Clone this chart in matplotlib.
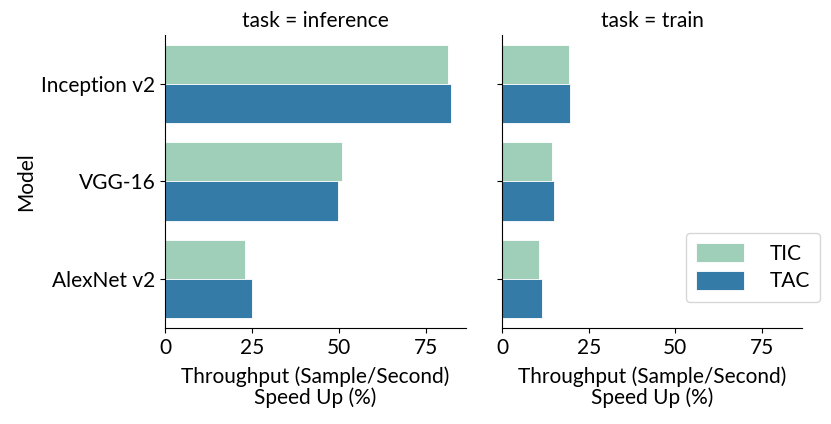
import numpy as np
import matplotlib
matplotlib.use('Agg')
import matplotlib.pyplot as plt

plt.rcParams['font.family'] = ['Lato', 'DejaVu Sans']

models = ['Inception v2', 'VGG-16', 'AlexNet v2']
tasks = ['inference', 'train']
methods = ['TIC', 'TAC']
colors = ['#9fcfb9', '#357ba8']

# speed up (%) per task, per method, per model
inference_tic = [81.3, 50.8, 22.9]
inference_tac = [82.2, 49.6, 25.1]
train_tic = [19.3, 14.4, 10.7]
train_tac = [19.5, 14.9, 11.6]

values = {
    'inference': [inference_tic, inference_tac],
    'train': [train_tic, train_tac],
}

fig = plt.figure(figsize=(8.31, 4.24), dpi=100)
ax1 = fig.add_axes([0.1986, 0.2264, 0.3622, 0.6911])
ax2 = fig.add_axes([0.6041, 0.2264, 0.3610, 0.6911], sharex=ax1, sharey=ax1)

y = np.arange(len(models))
h = 0.4
handles = []
for ax, task in zip([ax1, ax2], tasks):
    for i, m in enumerate(methods):
        b = ax.barh(y - h / 2 + i * h, values[task][i], height=h, color=colors[i],
                    edgecolor='white', linewidth=0.6, label=m)
        if task == 'train':
            handles.append(b)
    ax.set_title(f'task = {task}', fontsize=15)
    ax.spines['top'].set_visible(False)
    ax.spines['right'].set_visible(False)
    ax.set_xlabel('Throughput (Sample/Second)\nSpeed Up (%)', fontsize=15,
                  linespacing=1.05, labelpad=6)
    ax.tick_params(labelsize=15)

ax1.set_yticks(y)
ax1.set_yticklabels(models)
ax1.set_ylim(2.5, -0.5)
ax1.set_xlim(0, 86.5)
ax1.set_xticks([0, 25, 50, 75])
ax1.set_ylabel('Model', fontsize=15)
ax2.tick_params(labelleft=False)

fig.legend(handles, methods, loc='lower right', bbox_to_anchor=(0.987, 0.288),
           borderaxespad=0, fontsize=15, frameon=True, handlelength=2.3,
           handleheight=1.0, borderpad=0.5, labelspacing=0.35, handletextpad=1.2)

fig.savefig('out.png', dpi=100)
